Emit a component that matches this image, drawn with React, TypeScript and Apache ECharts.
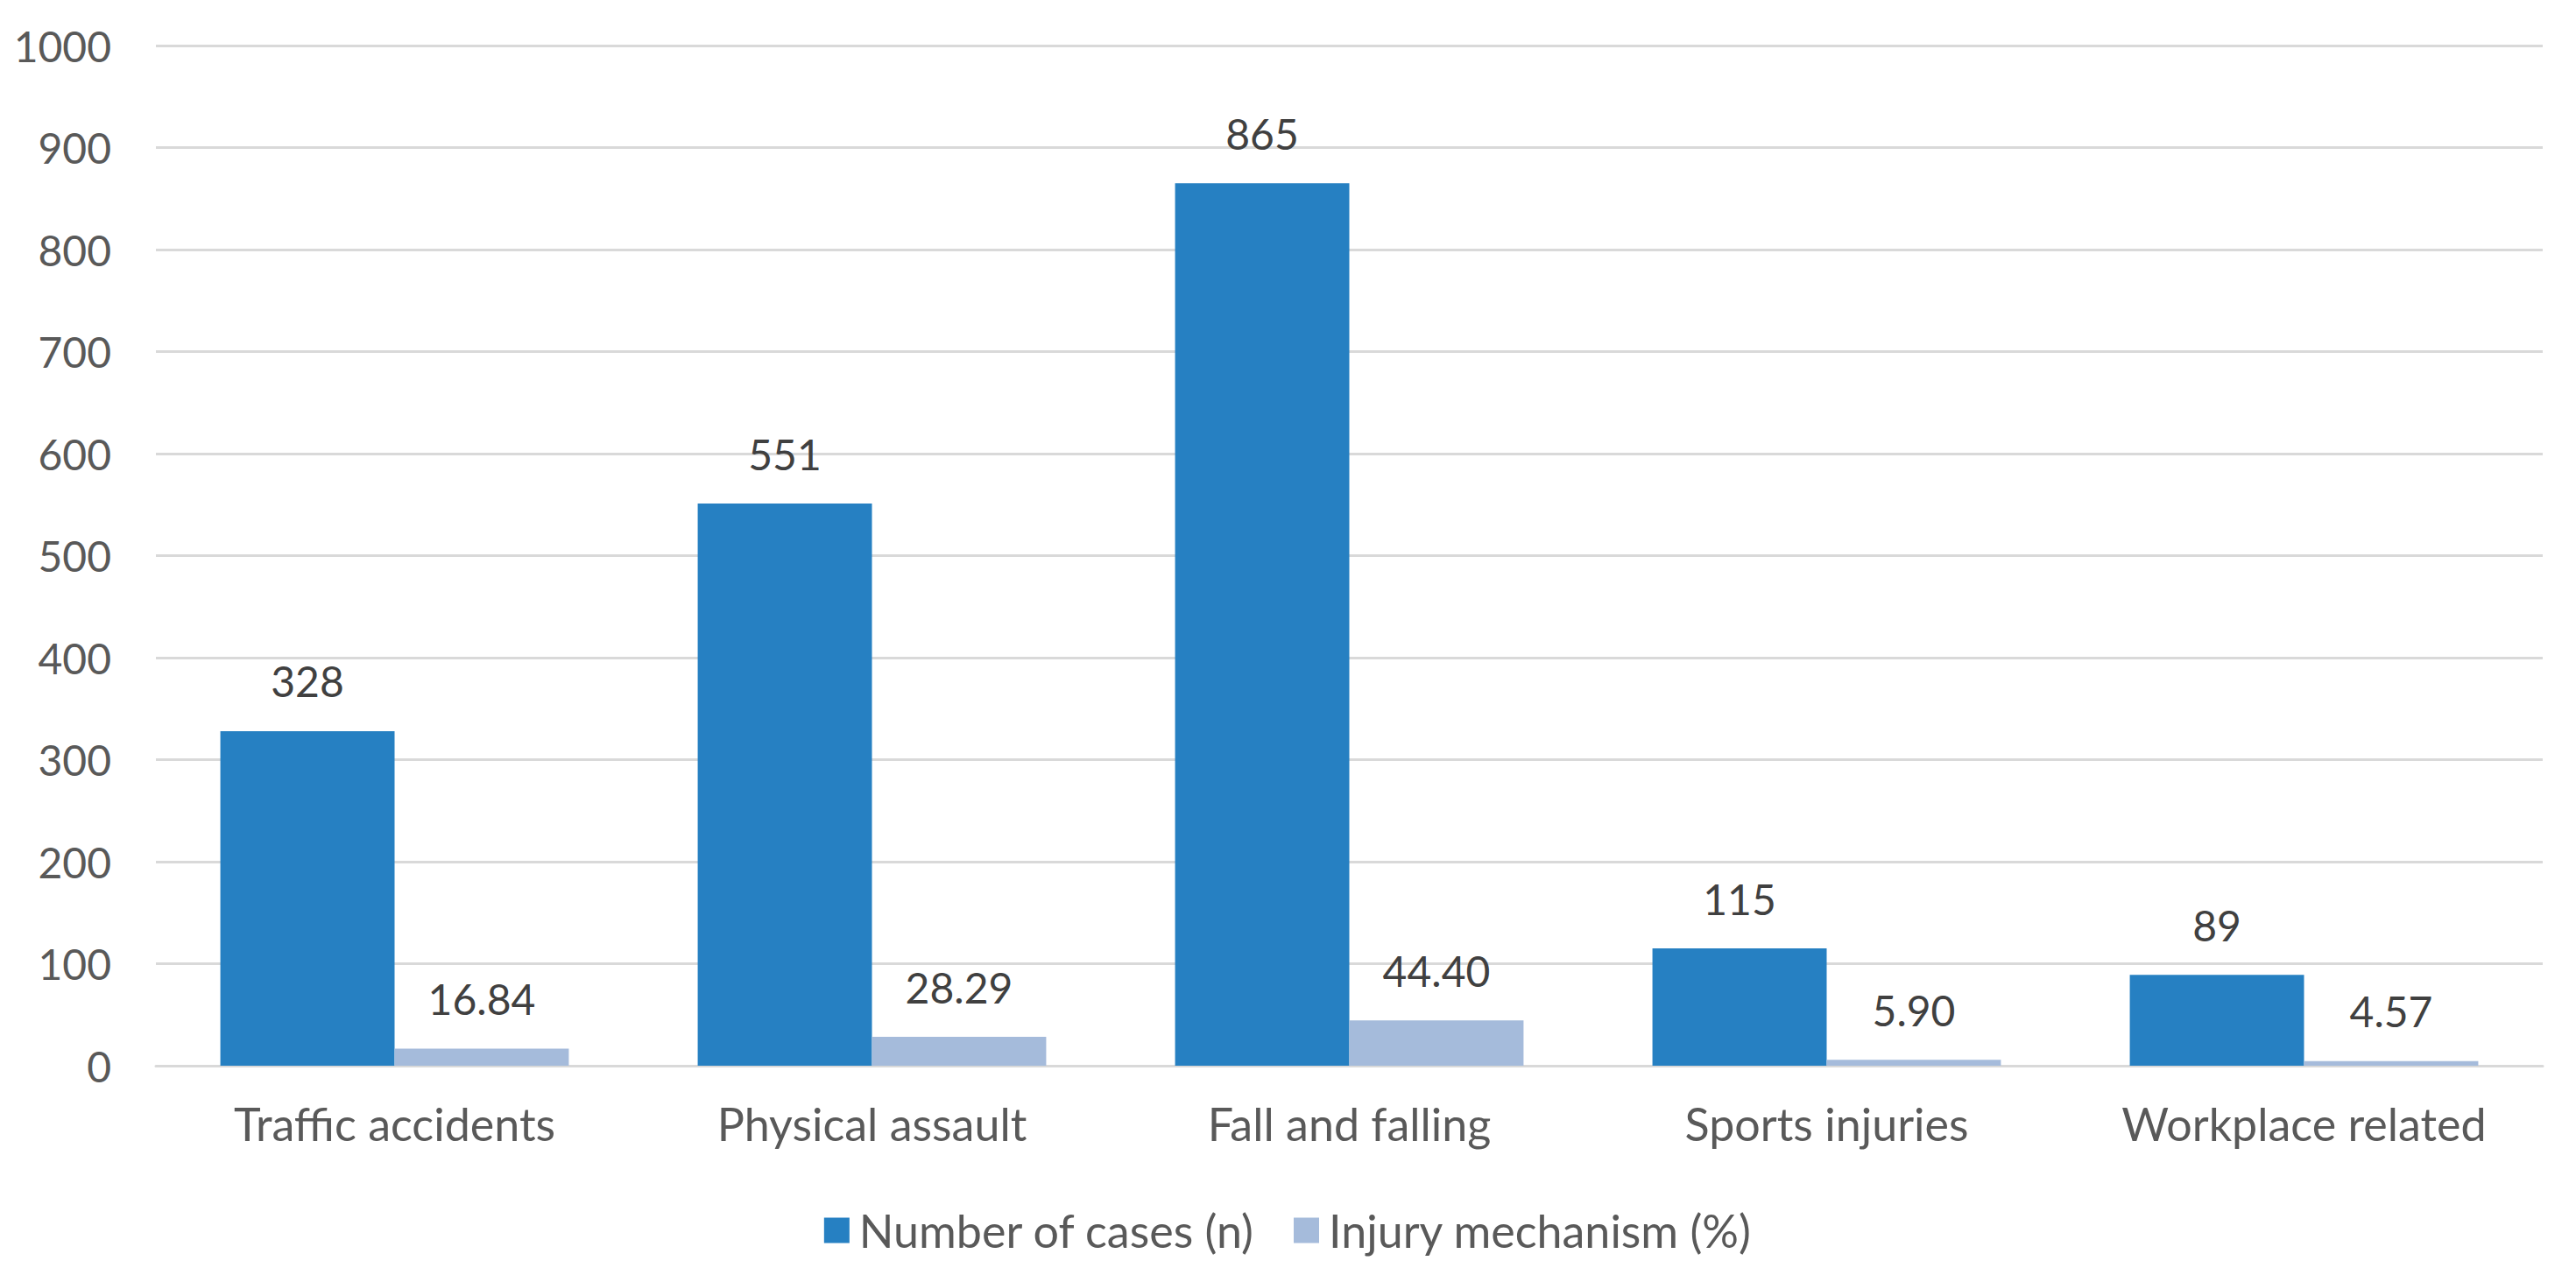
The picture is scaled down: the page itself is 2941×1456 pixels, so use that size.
import React, { useEffect, useRef } from "react";
import * as echarts from "echarts";

const categories = ["Traffic accidents", "Physical assault", "Fall and falling", "Sports injuries", "Workplace related"];
const casesValues = [328, 551, 865, 115, 89];
const mechanismValues = [16.84, 28.29, 44.4, 5.9, 4.57];
const seriesNames = ["Number of cases (n)", "Injury mechanism (%)"];
const yTicks = { min: 0, max: 1000, interval: 100 };

const FONT = "Lato, 'Open Sans', sans-serif";
const TEXT = "#595959";
const LABEL = "#404040";

export default function App() {
  const ref = useRef<HTMLDivElement>(null);
  useEffect(() => {
    if (!ref.current) return;
    const chart = echarts.init(ref.current, undefined, { renderer: "svg" });
    chart.setOption({
      animation: false,
      backgroundColor: "#ffffff",
      textStyle: { fontFamily: FONT },
      grid: { left: 178, right: 38, top: 52, bottom: 239, containLabel: false },
      legend: {
        bottom: 20,
        left: "center",
        itemWidth: 29,
        itemHeight: 29,
        itemGap: 44,
        icon: "rect",
        textStyle: { fontFamily: FONT, fontSize: 52, color: TEXT, padding: [0, 0, 0, 6] },
        data: seriesNames,
      },
      xAxis: {
        type: "category",
        data: categories,
        axisLine: { lineStyle: { color: "#D9D9D9", width: 3 } },
        axisTick: { show: false },
        axisLabel: { color: TEXT, fontSize: 52, fontFamily: FONT, margin: 40 },
      },
      yAxis: {
        type: "value",
        min: yTicks.min,
        max: yTicks.max,
        interval: yTicks.interval,
        axisLine: { show: false },
        axisTick: { show: false },
        splitLine: { lineStyle: { color: "#D9D9D9", width: 3 } },
        axisLabel: {
          color: TEXT,
          fontSize: 48,
          fontFamily: FONT,
          margin: 51,
          formatter: (v: number) => String(v),
        },
      },
      series: [
        {
          name: seriesNames[0],
          type: "bar",
          data: casesValues,
          barGap: "0%",
          barCategoryGap: "27%",
          itemStyle: { color: "#2680C2" },
          label: { show: true, position: "top", distance: 33, color: LABEL, fontSize: 48, fontFamily: FONT },
        },
        {
          name: seriesNames[1],
          type: "bar",
          data: mechanismValues,
          itemStyle: { color: "#A5BBDB" },
          label: {
            show: true,
            position: "top",
            distance: 33,
            color: LABEL,
            fontSize: 48,
            fontFamily: FONT,
            formatter: (p: any) => Number(p.value).toFixed(2),
          },
        },
      ],
    });
    return () => chart.dispose();
  }, []);
  return <div ref={ref} style={{ position: "fixed", left: 0, top: 0, width: 2941, height: 1456 }} />;
}
